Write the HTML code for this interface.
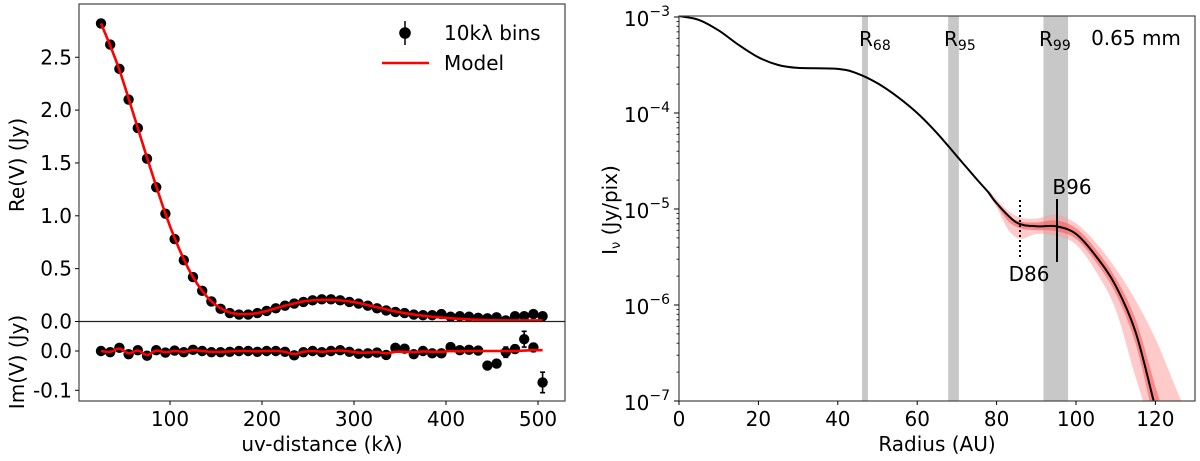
<!DOCTYPE html>
<html><head><meta charset="utf-8"><style>
html,body{margin:0;padding:0;background:#fff;width:1200px;height:461px;overflow:hidden}
svg{display:block;overflow:hidden}
text{font-family:"DejaVu Sans","Liberation Sans",sans-serif;fill:#000}
</style></head><body>
<svg id="chart" width="1200" height="461" viewBox="0 0 1200 461">
<text x="322" y="451" font-size="20" text-anchor="middle">uv-distance (kλ)</text>
<text transform="translate(24,165) rotate(-90)" font-size="20" text-anchor="middle">Re(V) (Jy)</text>
<text transform="translate(24,362) rotate(-90)" font-size="20" text-anchor="middle">Im(V) (Jy)</text>
<g>
 <g><line x1="405" x2="405" y1="21" y2="45" stroke="#000" stroke-width="1.5"/><circle cx="405" cy="33" r="5.8" fill="#000"/><text x="444" y="40" font-size="20">10kλ bins</text></g>
 <g><line x1="382" x2="429" y1="63" y2="63" stroke="#f00" stroke-width="2.6"/><text x="444" y="70" font-size="20">Model</text></g>
</g>
<g id="overlay">
<line x1="1020" x2="1020" y1="200" y2="260" stroke="#000" stroke-width="2" stroke-dasharray="2,3"/>
<line x1="1057" x2="1057" y1="199" y2="262" stroke="#000" stroke-width="2"/>
<text x="1072" y="194" font-size="20" text-anchor="middle">B96</text>
<text x="1029" y="281" font-size="20" text-anchor="middle">D86</text>
<text x="859" y="46" font-size="20">R<tspan font-size="14" dy="4">68</tspan></text>
<text x="944" y="46" font-size="20">R<tspan font-size="14" dy="4">95</tspan></text>
<text x="1039" y="46" font-size="20">R<tspan font-size="14" dy="4">99</tspan></text>
<text x="1136" y="45" font-size="20" text-anchor="middle">0.65 mm</text>
<text x="937" y="451" font-size="20" text-anchor="middle">Radius (AU)</text>
<text transform="translate(617,210) rotate(-90)" font-size="20" text-anchor="middle">I<tspan font-size="13" dy="3">ν</tspan><tspan dy="-3"> (Jy/pix)</tspan></text>
</g>
</svg>
<script>
// ---- Left panel data ----
const uvDist=[25,35,45,55,65,75,85,95,105,115,125,135,145,155,165,175,185,195,205,215,225,235,245,255,265,275,285,295,305,315,325,335,345,355,365,375,385,395,405,415,425,435,445,455,465,475,485,495,505];
const reData=[2.82,2.62,2.39,2.10,1.83,1.54,1.27,1.02,0.78,0.58,0.42,0.29,0.19,0.12,0.08,0.066,0.066,0.08,0.10,0.125,0.15,0.17,0.185,0.20,0.21,0.21,0.20,0.185,0.17,0.15,0.125,0.105,0.09,0.08,0.066,0.06,0.06,0.07,0.045,0.05,0.045,0.035,0.03,0.04,0.01,0.05,0.05,0.07,0.05];
const reModel=[2.82,2.61,2.38,2.11,1.83,1.55,1.28,1.02,0.79,0.59,0.42,0.29,0.19,0.125,0.085,0.07,0.07,0.08,0.10,0.125,0.15,0.17,0.19,0.20,0.205,0.205,0.20,0.19,0.175,0.155,0.135,0.115,0.095,0.08,0.066,0.055,0.045,0.038,0.03,0.025,0.02,0.016,0.013,0.011,0.01,0.01,0.01,0.01,0.01];
const imData=[0,-0.003,0.008,-0.008,0.002,-0.012,0.002,-0.004,0.001,-0.003,0.003,0,-0.003,-0.003,-0.002,0,0,-0.002,0,0,-0.002,-0.011,-0.003,0,-0.003,0,0.002,-0.002,-0.007,-0.006,-0.004,-0.01,0.008,0.006,-0.008,0,-0.006,-0.006,0.01,0.002,0.003,0.001,-0.037,-0.032,-0.003,0.005,0.03,0.009,-0.08];
const imErr=[0,0,0,0,0,0,0,0,0,0,0,0,0,0,0,0,0,0,0,0,0,0,0,0,0,0,0,0,0,0,0,0,0,0,0,0,0,0,0,0,0,0,0.005,0.005,0.013,0.01,0.02,0.01,0.026];
const imModel=[0,-0.002,0.006,-0.006,0.001,-0.01,0.001,-0.003,0,-0.002,0.002,0,-0.002,-0.002,-0.001,0,0,-0.001,0,0,-0.002,-0.008,-0.002,0,-0.002,0,0.001,-0.001,-0.004,-0.004,-0.003,-0.006,-0.002,-0.002,-0.003,-0.001,-0.002,-0.002,0,-0.001,0,0,0,0,0,0,0.001,0.002,0.002];
const uvTicks=[100,200,300,400,500];
const reTicks=[0,0.5,1.0,1.5,2.0,2.5];
const imTicks=[0.0,-0.1];
// ---- Right panel data ----
const radius=[0,5,10,15,20,25,30,40,45,50,55,60,65,70,75,78,80,85,90,95,100,105,110,115,119.5,122];
const logI=[-2.99,-3.03,-3.14,-3.29,-3.42,-3.50,-3.53,-3.54,-3.59,-3.69,-3.83,-4.00,-4.21,-4.45,-4.69,-4.83,-4.94,-5.14,-5.18,-5.18,-5.26,-5.49,-5.80,-6.28,-6.99,-7.4];
const bandR=[78,80,83,86,90,95,100,105,110,115,120,125,127];
const lightUp=[-4.80,-4.90,-5.02,-5.09,-5.10,-5.06,-5.15,-5.35,-5.62,-5.95,-6.35,-6.85,-7.05];
const lightLo=[-4.86,-4.98,-5.22,-5.31,-5.26,-5.28,-5.37,-5.65,-6.05,-6.75,-7.4,-8,-8.2];
const darkUp=[-4.82,-4.92,-5.07,-5.13,-5.14,-5.12,-5.20,-5.42,-5.72,-6.15,-6.85,-7.5,-7.7];
const darkLo=[-4.85,-4.96,-5.13,-5.20,-5.22,-5.23,-5.31,-5.55,-5.88,-6.40,-7.25,-8,-8.2];
const radBands=[[46.1,47.6],[67.8,70.5],[91.8,98.0]];
const radTicks=[0,20,40,60,80,100,120];
const decTicks=[-3,-4,-5,-6,-7];

const NS="http://www.w3.org/2000/svg";
const svg=document.getElementById('chart');
const overlay=document.getElementById('overlay');
function mk(tag,attrs,parent,txt){const e=document.createElementNS(NS,tag);for(const k in attrs)e.setAttribute(k,attrs[k]);if(txt!==undefined)e.textContent=txt;(parent||svg).insertBefore(e,parent?null:overlay);return e;}
function smooth(pts){let d='M'+pts[0][0]+','+pts[0][1];
 for(let i=0;i<pts.length-1;i++){const p0=pts[Math.max(0,i-1)],p1=pts[i],p2=pts[i+1],p3=pts[Math.min(pts.length-1,i+2)];
 const c1=[p1[0]+(p2[0]-p0[0])/6,p1[1]+(p2[1]-p0[1])/6],c2=[p2[0]-(p3[0]-p1[0])/6,p2[1]-(p3[1]-p1[1])/6];
 d+=`C${c1[0]},${c1[1]} ${c2[0]},${c2[1]} ${p2[0]},${p2[1]}`;}return d;}

const LX0=79,LX1=565,LT=4,LSEP=321.5,LB=401;
const ux=v=>170+(v-100)*0.92;
const ry=v=>321.5-v*105.7;
const iy=v=>351-v*393;
const clipDefs=mk('defs',{});
const cp1=mk('clipPath',{id:'cRe'},clipDefs);mk('rect',{x:LX0,y:LT,width:LX1-LX0,height:LSEP-LT},cp1);
const cp2=mk('clipPath',{id:'cIm'},clipDefs);mk('rect',{x:LX0,y:LSEP,width:LX1-LX0,height:LB-LSEP},cp2);
const cp3=mk('clipPath',{id:'cR'},clipDefs);mk('rect',{x:679,y:16,width:516,height:385},cp3);

const gRe=mk('g',{'clip-path':'url(#cRe)'});


uvDist.forEach((u,i)=>{const c=mk('circle',{cx:ux(u),cy:ry(reData[i]),r:5.2,fill:'#000'},gRe);

});
const reLine=mk('path',{d:smooth(uvDist.map((u,i)=>[ux(u),ry(reModel[i])])),fill:'none',stroke:'#f00','stroke-width':2.6},gRe);



const gIm=mk('g',{'clip-path':'url(#cIm)'});


uvDist.forEach((u,i)=>{
 if(imErr[i]>0){const eb=mk('path',{d:`M${ux(u)},${iy(imData[i]-imErr[i])}V${iy(imData[i]+imErr[i])}M${ux(u)-2.5},${iy(imData[i]-imErr[i])}h5M${ux(u)-2.5},${iy(imData[i]+imErr[i])}h5`,stroke:'#000','stroke-width':1.6,fill:'none'},gIm);
 
 }
 const c=mk('circle',{cx:ux(u),cy:iy(imData[i]),r:5.2,fill:'#000'},gIm);
 
 });
const imLine=mk('path',{d:smooth(uvDist.map((u,i)=>[ux(u),iy(imModel[i])])),fill:'none',stroke:'#f00','stroke-width':2.6},gIm);



mk('rect',{x:LX0,y:LT,width:LX1-LX0,height:LB-LT,fill:'none',stroke:'#444','stroke-width':1.2});
mk('line',{x1:LX0,x2:LX1,y1:LSEP,y2:LSEP,stroke:'#222','stroke-width':1.2});
uvTicks.forEach(t=>{mk('line',{x1:ux(t),x2:ux(t),y1:LB,y2:LB+4,stroke:'#000'});
 const tl=mk('text',{x:ux(t),y:LB+25,'font-size':20,'text-anchor':'middle'},null,t);
 
 });
reTicks.forEach(t=>{mk('line',{x1:LX0-4,x2:LX0,y1:ry(t),y2:ry(t),stroke:'#000'});
 const tl=mk('text',{x:LX0-7,y:ry(t)+7,'font-size':20,'text-anchor':'end'},null,t.toFixed(1));
 
 });
imTicks.forEach(t=>{mk('line',{x1:LX0-4,x2:LX0,y1:iy(t),y2:iy(t),stroke:'#000'});
 const tl=mk('text',{x:LX0-7,y:iy(t)+7,'font-size':20,'text-anchor':'end'},null,t.toFixed(1));
 
 });

const RX0=679,RX1=1195,RT=16,RB=401;
const rx=v=>679+v*3.97;
const ly=v=>17-(v+3)*96;
const g2=mk('g',{'clip-path':'url(#cR)'});


radBands.forEach(b=>{const r=mk('rect',{x:rx(b[0]),y:RT,width:rx(b[1])-rx(b[0]),height:RB-RT,fill:'#c8c8c8'},g2);
 
 });
function band(up,lo,col){
 const top=bandR.map((r,i)=>[rx(r),ly(up[i])]);
 const bot=bandR.map((r,i)=>[rx(r),ly(lo[i])]).reverse();
 const d=smooth(top)+smooth(bot).replace('M','L')+'Z';
 return mk('path',{d:d,fill:col},g2);}
const b1=band(lightUp,lightLo,'rgba(255,150,150,0.5)');


const b2=band(darkUp,darkLo,'rgba(250,90,90,0.6)');


const pl=mk('path',{d:smooth(radius.map((r,i)=>[rx(r),ly(logI[i])])),fill:'none',stroke:'#000','stroke-width':2},g2);


mk('rect',{x:RX0,y:RT,width:RX1-RX0,height:RB-RT,fill:'none',stroke:'#444','stroke-width':1.2});
radTicks.forEach(t=>{mk('line',{x1:rx(t),x2:rx(t),y1:RB,y2:RB+4,stroke:'#000'});
 const tl=mk('text',{x:rx(t),y:RB+25,'font-size':20,'text-anchor':'middle'},null,t);
 
 });
decTicks.forEach(d=>{mk('line',{x1:RX0-5,x2:RX0,y1:ly(d),y2:ly(d),stroke:'#000'});
 if(d>-7)for(let m=2;m<10;m++){const y=ly(d-1+Math.log10(m));mk('line',{x1:RX0-2.5,x2:RX0,y1:y,y2:y,stroke:'#000','stroke-width':0.8});}
 const tl=mk('text',{x:RX0-9,y:ly(d)+9,'font-size':20,'text-anchor':'end'});
 
 
 mk('tspan',{},tl,'10');mk('tspan',{dy:-10,'font-size':14},tl,'−'+(-d));});
</script>
</body></html>
